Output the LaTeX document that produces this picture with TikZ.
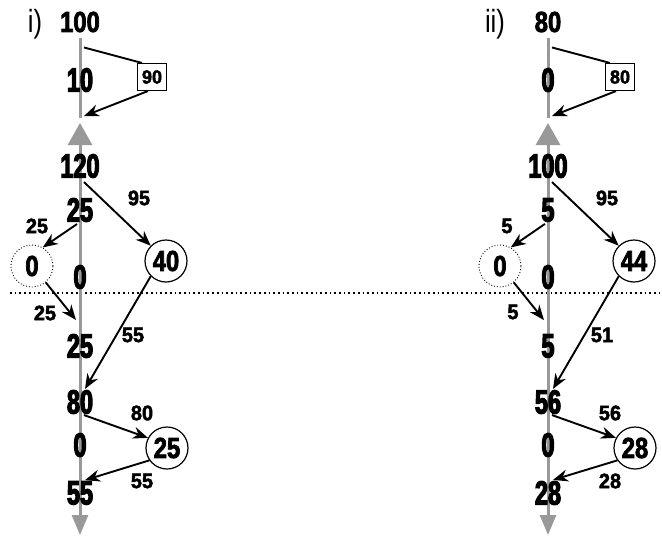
\documentclass[tikz,border=0pt]{standalone}
\usepackage{fontspec}
\setmainfont{Liberation Sans}
\newfontfamily\narrowfont[FakeStretch=0.70,FakeBold=3.5]{Liberation Sans}
\newfontfamily\midfont[FakeStretch=0.82,FakeBold=2.5]{Liberation Sans}
\newfontfamily\lblfont[FakeStretch=0.95,FakeBold=2.2]{Liberation Sans}
\newfontfamily\partfont[FakeStretch=0.80]{Liberation Sans}
\usetikzlibrary{arrows.meta}

\begin{document}
\begin{tikzpicture}[x=1pt,y=-1pt,
num/.style={font=\narrowfont\bfseries\fontsize{33.5}{36}\selectfont,inner sep=1pt},
head/.style={font=\midfont\bfseries\fontsize{29}{30}\selectfont,inner sep=1pt},
part/.style={font=\partfont\fontsize{32}{32}\selectfont,inner sep=1pt},
lbl/.style={font=\lblfont\bfseries\fontsize{21}{21}\selectfont,inner sep=1pt},
ring/.style={circle,draw,line width=1.2pt,minimum size=42pt,inner sep=0pt,font=\midfont\bfseries\fontsize{29}{30}\selectfont},
hole/.style={ring,line width=0.9pt,dotted},
tag/.style={draw,line width=1.1pt,minimum width=29pt,minimum height=27pt,inner sep=0pt,font=\lblfont\bfseries\fontsize{19}{20}\selectfont},
arr/.style={line width=1.9pt,-{Stealth[length=15pt,width=12pt]}},
link/.style={line width=1.9pt},
axis/.style={line width=3pt,draw=black!40},
axtips/.style={{Triangle[length=22pt,width=24pt]}-{Triangle[length=20pt,width=16pt]}},
cut/.style={line width=1.7pt,dash pattern=on 1.7pt off 3pt}]
\useasboundingbox (0,0) rectangle (662,536);
\draw[cut] (10,293) -- (662,293);
% i)
\begin{scope}
\draw[axis] (80,38) -- (80,118);
\draw[axis,axtips] (80,123) -- (80,535);
\node[part] (pa) at (35,24) {i)};
\node[head] (topa) at (80,22) {100};
\node[num] (n1a) at (80,80) {10};
\node[tag] (boxa) at (152,77) {90};
\node[num] (n2a) at (80,166) {120};
\node[num] (n3a) at (80,210) {25};
\node[hole] (za) at (32,266) {0};
\node[num] (n4a) at (80,277) {0};
\node[ring] (c1a) at (166,261) {40};
\node[num] (n5a) at (80,346) {25};
\node[num] (n6a) at (80,402) {80};
\node[num] (n7a) at (80,445) {0};
\node[ring] (c2a) at (167,448) {25};
\node[num] (n8a) at (80,493) {55};
\node[lbl] (l1a) at (139,198) {95};
\node[lbl] (l2a) at (37,226) {25};
\node[lbl] (l3a) at (45,313) {25};
\node[lbl] (l4a) at (133,335) {55};
\node[lbl] (l5a) at (142,413) {80};
\node[lbl] (l6a) at (142,481) {55};
\draw[link] ([shift={(4,14)}]topa.south) -- ([xshift=5pt]boxa.north west);
\draw[arr] ([xshift=-4pt]boxa.south) -- ([shift={(4,23)}]n1a.south);
\draw[arr] ([shift={(4,3)}]n2a.south) -- (c1a.135);
\draw[arr] ([shift={(-3,1)}]n3a.south) -- (za.60);
\draw[arr] (za.-50) -- ([shift={(-4,-13)}]n5a.north);
\draw[arr] (c1a.-135) -- ([xshift=5pt]n6a.north);
\draw[arr] ([xshift=4pt]n6a.south) -- (c2a.152);
\draw[arr] (c2a.-145) -- ([xshift=5pt]n8a.north);
\end{scope}
% ii)
\begin{scope}[xshift=468pt]
\draw[axis] (80,38) -- (80,118);
\draw[axis,axtips] (80,123) -- (80,535);
\node[part] (pb) at (27,24) {ii)};
\node[head] (topb) at (80,22) {80};
\node[num] (n1b) at (80,80) {0};
\node[tag] (boxb) at (152,77) {80};
\node[num] (n2b) at (80,166) {100};
\node[num] (n3b) at (80,210) {5};
\node[hole] (zb) at (32,266) {0};
\node[num] (n4b) at (80,277) {0};
\node[ring] (c1b) at (166,261) {44};
\node[num] (n5b) at (80,346) {5};
\node[num] (n6b) at (80,402) {56};
\node[num] (n7b) at (80,445) {0};
\node[ring] (c2b) at (167,448) {28};
\node[num] (n8b) at (80,493) {28};
\node[lbl] (l1b) at (139,198) {95};
\node[lbl] (l2b) at (39,226) {5};
\node[lbl] (l3b) at (45,312) {5};
\node[lbl] (l4b) at (134,335) {51};
\node[lbl] (l5b) at (142,413) {56};
\node[lbl] (l6b) at (142,481) {28};
\draw[link] ([shift={(4,14)}]topb.south) -- ([xshift=5pt]boxb.north west);
\draw[arr] ([xshift=-4pt]boxb.south) -- ([shift={(4,23)}]n1b.south);
\draw[arr] ([shift={(4,3)}]n2b.south) -- (c1b.135);
\draw[arr] ([shift={(-3,1)}]n3b.south) -- (zb.60);
\draw[arr] (zb.-50) -- ([shift={(-4,-13)}]n5b.north);
\draw[arr] (c1b.-135) -- ([xshift=5pt]n6b.north);
\draw[arr] ([xshift=4pt]n6b.south) -- (c2b.152);
\draw[arr] (c2b.-145) -- ([xshift=5pt]n8b.north);
\end{scope}
\end{tikzpicture}
\end{document}
